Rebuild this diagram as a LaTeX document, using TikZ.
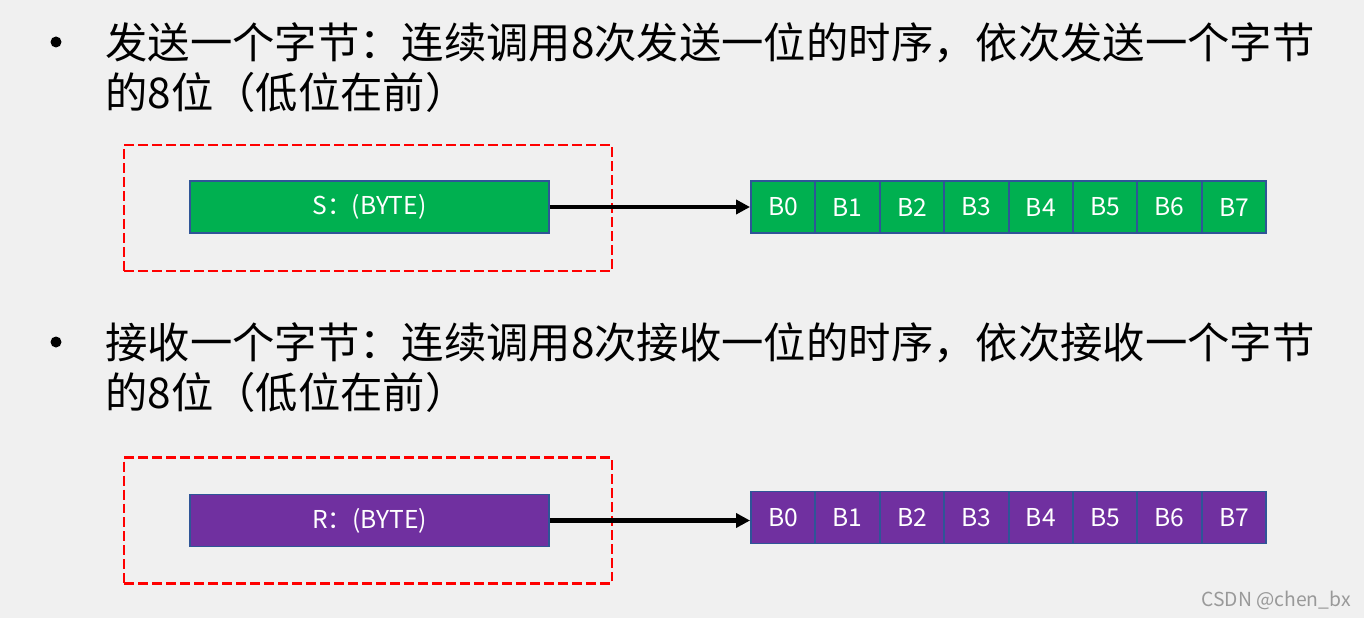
\documentclass[tikz,border=0pt]{standalone}
\usepackage{fontspec}
\setmainfont{Noto Sans CJK SC}
\usetikzlibrary{arrows.meta}
\definecolor{bggray}{HTML}{F0F0F0}
\definecolor{bytegreen}{HTML}{00B050}
\definecolor{bytepurple}{HTML}{7030A0}
\definecolor{edgeblue}{HTML}{2F5597}
\tikzset{
  line/.style={anchor=north west, inner sep=0pt, align=left,
    font=\fontsize{24.1}{28.4}\selectfont},
  dot/.style={circle, fill=black, inner sep=0pt, minimum size=0.22cm},
  bytebox/.style={draw=edgeblue, line width=1.1pt, text=white, inner sep=0pt,
    minimum width=7.18cm, minimum height=1.04cm, font=\fontsize{14}{16}\selectfont},
  bitbox/.style={bytebox, minimum width=1.288cm},
  selbox/.style={draw=red, line width=1.3pt, dash pattern=on 0.2cm off 0.08cm,
    minimum width=9.76cm, minimum height=2.52cm, inner sep=0pt},
  arrowline/.style={line width=2.3pt, -{Triangle[length=0.28cm,width=0.28cm]}}
}
\begin{document}
\begin{tikzpicture}[x=0.02cm, y=-0.02cm]
\fill[bggray] (0,0) rectangle (1364,618);
\useasboundingbox (0,0) rectangle (1364,618);
% send one byte
\node[dot] (d1) at (56,42) {};
\node[line] (t1) at (105,22) {发送一个字节：连续调用8次发送一位的时序，依次发送一个字节\\的8位（低位在前）};
\node[selbox] (ssel) at (368,208) {};
\node[bytebox, fill=bytegreen] (sbyte) at (369.5,207) {S：(BYTE)};
\foreach \i in {0,...,7}{
    \node[bitbox, fill=bytegreen] (sb\i) at (783.2+64.4*\i,207) {B\i};
}
\draw[arrowline] (sbyte.east) -- (sb0.west);
% receive one byte
\node[dot] (d2) at (56,342) {};
\node[line] (t2) at (105,322) {接收一个字节：连续调用8次接收一位的时序，依次接收一个字节\\的8位（低位在前）};
\node[selbox] (rsel) at (368,520.5) {};
\node[bytebox, fill=bytepurple] (rbyte) at (369.5,520.5) {R：(BYTE)};
\foreach \i in {0,...,7}{
    \node[bitbox, fill=bytepurple] (rb\i) at (783.2+64.4*\i,517.5) {B\i};
}
\draw[arrowline] (rbyte.east) -- (rbyte.east -| rb0.west);
\node[text=gray!80, font=\fontsize{11}{13}\selectfont] (mark) at (1276,600) {CSDN @chen\_bx};
\end{tikzpicture}
\end{document}
